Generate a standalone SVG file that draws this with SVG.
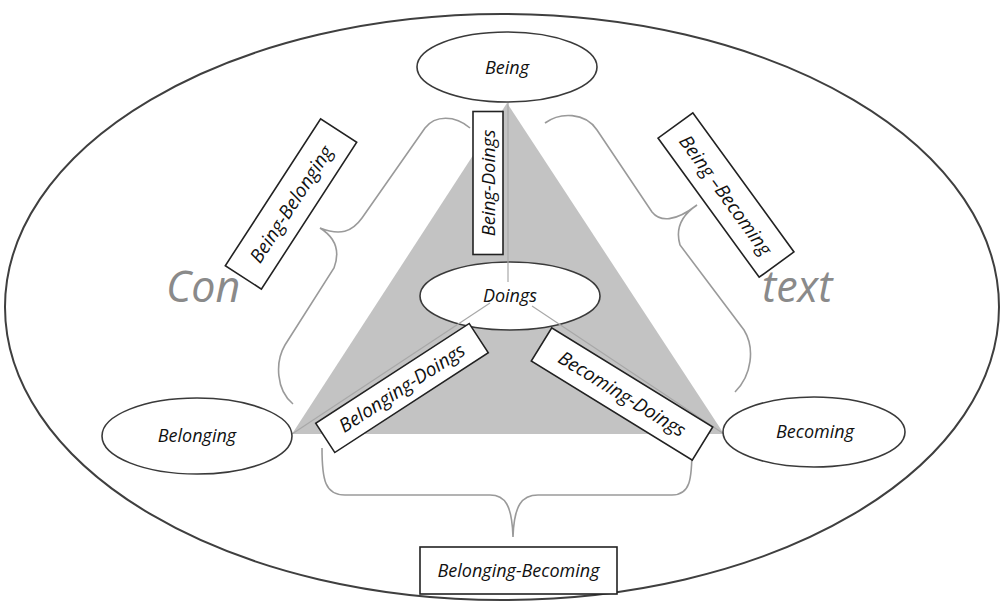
<svg xmlns="http://www.w3.org/2000/svg" width="1002" height="602" viewBox="0 0 1002 602">
<style>
.node{fill:#fff;stroke:#3a3a3a;stroke-width:1.6}
.box{fill:#fff;stroke:#222;stroke-width:1.6}
.lbl{font-family:"Open Sans","Liberation Sans",sans-serif;font-style:italic;fill:#111;text-anchor:middle}
.brace{fill:none;stroke:#9a9a9a;stroke-width:1.6}
.ctx{font-family:"Open Sans","Liberation Sans",sans-serif;font-style:italic;fill:#8a8a8a;font-size:43px}
</style>
<rect width="1002" height="602" fill="#fff"/>
<g id="context">
<ellipse cx="502" cy="307" rx="497" ry="293" fill="none" stroke="#3f3f3f" stroke-width="2"/>
<text class="ctx" x="166" y="302">Con</text>
<text class="ctx" x="762" y="302">text</text>
</g>
<g id="connectors">
<path class="brace" d="M470,128 C455,115 435,115 425,128 L362,218 C352,232 340,236 320,228 C336,238 340,252 334,268 L285,345 C275,362 276,390 293,404"/>
<path class="brace" d="M545,123 C560,112 585,112 597,130 L652,212 C660,222 675,222 697,205 C682,215 675,228 680,245 L744,330 C755,348 752,375 735,392"/>
<path class="brace" d="M322,448 C322,480 325,495 345,495 L490,495 C505,495 512,505 513,537 C514,505 522,495 538,495 L672,495 C690,495 692,480 692,448"/>
<polygon points="507,103 292,434 724,434" fill="#c3c3c3"/>
</g>
<g id="doings">
<ellipse class="node" cx="510" cy="296" rx="90" ry="34"/>
<g stroke="#a8a8a8" stroke-width="1.2">
<line x1="508" y1="103" x2="508" y2="282"/>
<line x1="490" y1="303" x2="292" y2="434"/>
<line x1="532" y1="306" x2="724" y2="434"/>
</g>
<text class="lbl" x="510" y="302" font-size="18">Doings</text>
</g>
<g id="being">
<ellipse class="node" cx="507" cy="67" rx="90" ry="35"/>
<text class="lbl" x="507" y="74" font-size="18">Being</text>
</g>
<g id="belonging">
<ellipse class="node" cx="197" cy="436" rx="95" ry="38"/>
<text class="lbl" x="197" y="442" font-size="18">Belonging</text>
</g>
<g id="becoming">
<ellipse class="node" cx="814" cy="432" rx="91" ry="35"/>
<text class="lbl" x="815" y="438" font-size="18">Becoming</text>
</g>
<g id="being-doings" transform="translate(488,183) rotate(-90)">
<rect class="box" x="-71.5" y="-15" width="143" height="30"/>
<text class="lbl" x="0" y="6.5" font-size="18.5">Being-Doings</text>
</g>
<g id="being-belonging" transform="translate(291,204) rotate(-57)">
<rect class="box" x="-87.5" y="-21.5" width="175" height="43"/>
<text class="lbl" x="0" y="7" font-size="19">Being-Belonging</text>
</g>
<g id="being-becoming" transform="translate(726,195) rotate(54)">
<rect class="box" x="-86" y="-21.5" width="172" height="43"/>
<text class="lbl" x="0" y="7" font-size="19">Being –Becoming</text>
</g>
<g id="belonging-doings" transform="translate(402,388) rotate(-33)">
<rect class="box" x="-91.5" y="-17.5" width="183" height="35"/>
<text class="lbl" x="0" y="6.5" font-size="19">Belonging-Doings</text>
</g>
<g id="becoming-doings" transform="translate(622,394) rotate(31.6)">
<rect class="box" x="-94.5" y="-19.5" width="189" height="39"/>
<text class="lbl" x="0" y="6.5" font-size="19">Becoming-Doings</text>
</g>
<g id="belonging-becoming">
<rect class="box" x="420" y="547" width="197" height="47"/>
<text class="lbl" x="518.5" y="577" font-size="18">Belonging-Becoming</text>
</g>
</svg>
